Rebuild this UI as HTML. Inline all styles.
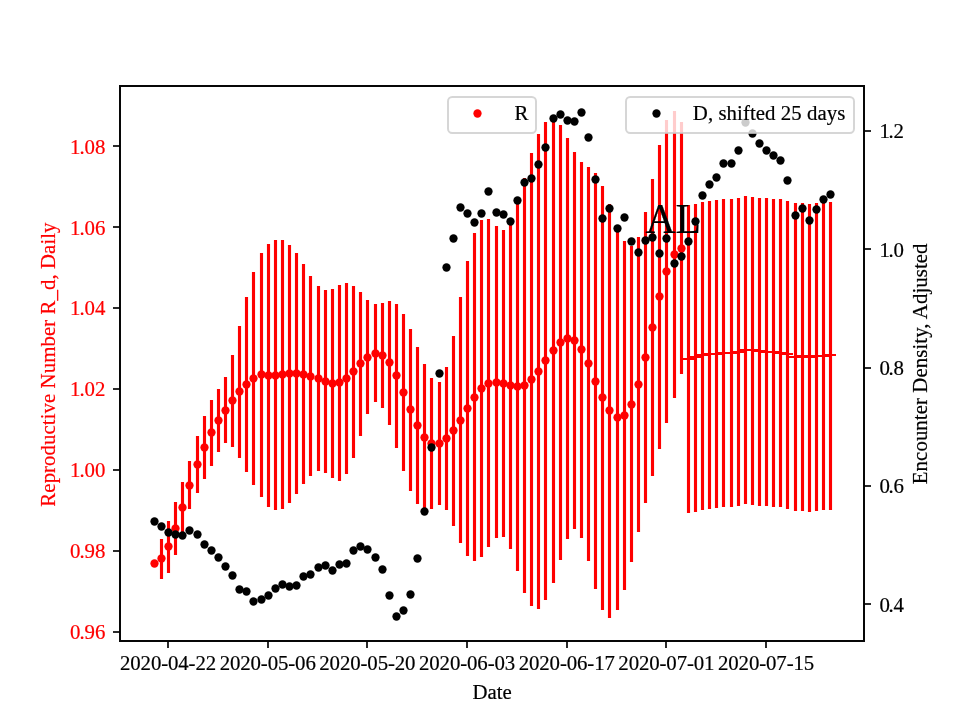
<!DOCTYPE html>
<html lang="en">
<head>
<meta charset="utf-8">
<title>Reproductive Number and Encounter Density - AL</title>
<style>
html,body{margin:0;padding:0;background:#fff;}
body{width:960px;height:720px;overflow:hidden;}
svg{display:block;}
text{stroke:currentColor;stroke-width:0.2px;}
</style>
</head>
<body>
<svg width="960" height="720" viewBox="0 0 960 720" font-family="'Liberation Serif', serif" font-size="20.83px" stroke-linejoin="round">
<rect width="960" height="720" fill="#fff"/>
<g fill="#f00">
<rect x="159.938" y="539" width="3.125" height="40"/>
<rect x="166.938" y="521" width="3.125" height="52"/>
<rect x="173.938" y="502" width="3.125" height="53"/>
<rect x="180.938" y="482" width="3.125" height="51"/>
<rect x="187.938" y="461" width="3.125" height="48"/>
<rect x="195.938" y="436" width="3.125" height="57"/>
<rect x="202.938" y="416" width="3.125" height="63"/>
<rect x="209.938" y="400" width="3.125" height="66"/>
<rect x="216.938" y="389" width="3.125" height="63"/>
<rect x="223.938" y="377" width="3.125" height="66"/>
<rect x="230.938" y="355" width="3.125" height="92"/>
<rect x="237.938" y="326" width="3.125" height="132"/>
<rect x="244.938" y="297" width="3.125" height="175"/>
<rect x="251.938" y="272" width="3.125" height="213"/>
<rect x="259.938" y="253" width="3.125" height="244"/>
<rect x="266.938" y="244" width="3.125" height="263"/>
<rect x="273.938" y="240" width="3.125" height="270"/>
<rect x="280.938" y="240" width="3.125" height="269"/>
<rect x="287.938" y="245" width="3.125" height="258"/>
<rect x="294.938" y="253" width="3.125" height="241"/>
<rect x="301.938" y="264" width="3.125" height="220"/>
<rect x="308.938" y="276" width="3.125" height="200"/>
<rect x="316.938" y="286" width="3.125" height="185"/>
<rect x="323.938" y="290" width="3.125" height="183"/>
<rect x="330.938" y="289" width="3.125" height="189"/>
<rect x="337.938" y="285" width="3.125" height="196"/>
<rect x="344.938" y="283" width="3.125" height="191"/>
<rect x="351.938" y="286" width="3.125" height="172"/>
<rect x="358.938" y="292" width="3.125" height="144"/>
<rect x="365.938" y="300" width="3.125" height="114"/>
<rect x="373.938" y="304" width="3.125" height="98"/>
<rect x="380.938" y="303" width="3.125" height="105"/>
<rect x="387.938" y="301" width="3.125" height="124"/>
<rect x="394.938" y="304" width="3.125" height="144"/>
<rect x="401.938" y="314" width="3.125" height="157"/>
<rect x="408.938" y="329" width="3.125" height="162"/>
<rect x="415.938" y="347" width="3.125" height="157"/>
<rect x="422.938" y="364" width="3.125" height="147"/>
<rect x="429.938" y="378" width="3.125" height="131"/>
<rect x="437.938" y="382" width="3.125" height="123"/>
<rect x="444.938" y="367" width="3.125" height="143"/>
<rect x="451.938" y="336" width="3.125" height="190"/>
<rect x="458.938" y="297" width="3.125" height="246"/>
<rect x="465.938" y="261" width="3.125" height="295"/>
<rect x="472.938" y="233" width="3.125" height="328"/>
<rect x="479.938" y="220" width="3.125" height="337"/>
<rect x="486.938" y="219" width="3.125" height="328"/>
<rect x="494.938" y="226" width="3.125" height="312"/>
<rect x="501.938" y="230" width="3.125" height="307"/>
<rect x="508.938" y="222" width="3.125" height="327"/>
<rect x="515.938" y="202" width="3.125" height="369"/>
<rect x="522.938" y="178" width="3.125" height="415"/>
<rect x="529.938" y="153" width="3.125" height="453"/>
<rect x="536.938" y="134" width="3.125" height="475"/>
<rect x="543.938" y="122" width="3.125" height="478"/>
<rect x="551.938" y="118" width="3.125" height="465"/>
<rect x="558.938" y="125" width="3.125" height="435"/>
<rect x="565.938" y="138" width="3.125" height="401"/>
<rect x="572.938" y="152" width="3.125" height="377"/>
<rect x="579.938" y="162" width="3.125" height="376"/>
<rect x="586.938" y="167" width="3.125" height="394"/>
<rect x="593.938" y="173" width="3.125" height="416"/>
<rect x="600.938" y="186" width="3.125" height="424"/>
<rect x="607.938" y="204" width="3.125" height="414"/>
<rect x="615.938" y="225" width="3.125" height="385"/>
<rect x="622.938" y="241" width="3.125" height="349"/>
<rect x="629.938" y="246" width="3.125" height="316"/>
<rect x="636.938" y="237" width="3.125" height="295"/>
<rect x="643.938" y="212" width="3.125" height="291"/>
<rect x="650.938" y="179" width="3.125" height="297"/>
<rect x="657.938" y="145" width="3.125" height="304"/>
<rect x="664.938" y="120" width="3.125" height="303"/>
<rect x="672.938" y="111" width="3.125" height="287"/>
<rect x="679.938" y="122" width="3.125" height="252"/>
<rect x="686.938" y="205" width="3.125" height="308"/>
<rect x="693.938" y="204" width="3.125" height="308"/>
<rect x="700.938" y="202" width="3.125" height="308"/>
<rect x="707.938" y="201" width="3.125" height="308"/>
<rect x="714.938" y="200" width="3.125" height="308"/>
<rect x="721.938" y="199" width="3.125" height="308"/>
<rect x="729.938" y="199" width="3.125" height="308"/>
<rect x="736.938" y="198" width="3.125" height="308"/>
<rect x="743.938" y="196" width="3.125" height="308"/>
<rect x="750.938" y="197" width="3.125" height="308"/>
<rect x="757.938" y="198" width="3.125" height="308"/>
<rect x="764.938" y="198" width="3.125" height="308"/>
<rect x="771.938" y="199" width="3.125" height="308"/>
<rect x="778.938" y="199" width="3.125" height="308"/>
<rect x="785.938" y="201" width="3.125" height="308"/>
<rect x="793.938" y="203" width="3.125" height="308"/>
<rect x="800.938" y="203" width="3.125" height="308"/>
<rect x="807.938" y="204" width="3.125" height="308"/>
<rect x="814.938" y="203" width="3.125" height="308"/>
<rect x="821.938" y="202" width="3.125" height="308"/>
<rect x="828.938" y="202" width="3.125" height="308"/>
<rect x="682" y="358" width="12" height="2"/>
<rect x="689" y="356" width="12" height="2"/>
<rect x="696" y="354" width="12" height="2"/>
<rect x="703" y="353" width="12" height="2"/>
<rect x="710" y="353" width="12" height="2"/>
<rect x="717" y="352" width="12" height="2"/>
<rect x="725" y="352" width="12" height="2"/>
<rect x="732" y="351" width="12" height="2"/>
<rect x="739" y="349" width="12" height="2"/>
<rect x="746" y="349" width="12" height="2"/>
<rect x="753" y="350" width="12" height="2"/>
<rect x="760" y="351" width="12" height="2"/>
<rect x="767" y="351" width="12" height="2"/>
<rect x="774" y="352" width="12" height="2"/>
<rect x="781" y="353" width="12" height="2"/>
<rect x="789" y="356" width="12" height="2"/>
<rect x="796" y="355" width="12" height="2"/>
<rect x="803" y="356" width="12" height="2"/>
<rect x="810" y="355" width="12" height="2"/>
<rect x="817" y="355" width="12" height="2"/>
<rect x="824" y="354" width="12" height="2"/>
</g>
<g fill="#f00">
<circle cx="154.5" cy="563.5" r="4.13"/>
<circle cx="161.5" cy="558.5" r="4.13"/>
<circle cx="168.5" cy="546.5" r="4.13"/>
<circle cx="175.5" cy="528.5" r="4.13"/>
<circle cx="182.5" cy="507.5" r="4.13"/>
<circle cx="189.5" cy="485.5" r="4.13"/>
<circle cx="197.5" cy="464.5" r="4.13"/>
<circle cx="204.5" cy="447.5" r="4.13"/>
<circle cx="211.5" cy="432.5" r="4.13"/>
<circle cx="218.5" cy="420.5" r="4.13"/>
<circle cx="225.5" cy="410.5" r="4.13"/>
<circle cx="232.5" cy="400.5" r="4.13"/>
<circle cx="239.5" cy="391.5" r="4.13"/>
<circle cx="246.5" cy="384.5" r="4.13"/>
<circle cx="253.5" cy="378.5" r="4.13"/>
<circle cx="261.5" cy="374.5" r="4.13"/>
<circle cx="268.5" cy="375.5" r="4.13"/>
<circle cx="275.5" cy="375.5" r="4.13"/>
<circle cx="282.5" cy="374.5" r="4.13"/>
<circle cx="289.5" cy="373.5" r="4.13"/>
<circle cx="296.5" cy="373.5" r="4.13"/>
<circle cx="303.5" cy="374.5" r="4.13"/>
<circle cx="310.5" cy="376.5" r="4.13"/>
<circle cx="318.5" cy="378.5" r="4.13"/>
<circle cx="325.5" cy="381.5" r="4.13"/>
<circle cx="332.5" cy="383.5" r="4.13"/>
<circle cx="339.5" cy="382.5" r="4.13"/>
<circle cx="346.5" cy="378.5" r="4.13"/>
<circle cx="353.5" cy="371.5" r="4.13"/>
<circle cx="360.5" cy="363.5" r="4.13"/>
<circle cx="367.5" cy="357.5" r="4.13"/>
<circle cx="375.5" cy="353.5" r="4.13"/>
<circle cx="382.5" cy="355.5" r="4.13"/>
<circle cx="389.5" cy="362.5" r="4.13"/>
<circle cx="396.5" cy="375.5" r="4.13"/>
<circle cx="403.5" cy="392.5" r="4.13"/>
<circle cx="410.5" cy="409.5" r="4.13"/>
<circle cx="417.5" cy="425.5" r="4.13"/>
<circle cx="424.5" cy="437.5" r="4.13"/>
<circle cx="431.5" cy="443.5" r="4.13"/>
<circle cx="439.5" cy="443.5" r="4.13"/>
<circle cx="446.5" cy="438.5" r="4.13"/>
<circle cx="453.5" cy="430.5" r="4.13"/>
<circle cx="460.5" cy="420.5" r="4.13"/>
<circle cx="467.5" cy="408.5" r="4.13"/>
<circle cx="474.5" cy="397.5" r="4.13"/>
<circle cx="481.5" cy="388.5" r="4.13"/>
<circle cx="488.5" cy="383.5" r="4.13"/>
<circle cx="496.5" cy="382.5" r="4.13"/>
<circle cx="503.5" cy="383.5" r="4.13"/>
<circle cx="510.5" cy="385.5" r="4.13"/>
<circle cx="517.5" cy="386.5" r="4.13"/>
<circle cx="524.5" cy="385.5" r="4.13"/>
<circle cx="531.5" cy="379.5" r="4.13"/>
<circle cx="538.5" cy="371.5" r="4.13"/>
<circle cx="545.5" cy="360.5" r="4.13"/>
<circle cx="553.5" cy="350.5" r="4.13"/>
<circle cx="560.5" cy="342.5" r="4.13"/>
<circle cx="567.5" cy="338.5" r="4.13"/>
<circle cx="574.5" cy="340.5" r="4.13"/>
<circle cx="581.5" cy="349.5" r="4.13"/>
<circle cx="588.5" cy="363.5" r="4.13"/>
<circle cx="595.5" cy="381.5" r="4.13"/>
<circle cx="602.5" cy="397.5" r="4.13"/>
<circle cx="609.5" cy="410.5" r="4.13"/>
<circle cx="617.5" cy="417.5" r="4.13"/>
<circle cx="624.5" cy="415.5" r="4.13"/>
<circle cx="631.5" cy="404.5" r="4.13"/>
<circle cx="638.5" cy="384.5" r="4.13"/>
<circle cx="645.5" cy="357.5" r="4.13"/>
<circle cx="652.5" cy="327.5" r="4.13"/>
<circle cx="659.5" cy="296.5" r="4.13"/>
<circle cx="666.5" cy="271.5" r="4.13"/>
<circle cx="674.5" cy="254.5" r="4.13"/>
<circle cx="681.5" cy="248.5" r="4.13"/>
</g>
<rect x="448" y="97" width="88" height="36" rx="4.2" ry="4.2" fill="#fff" fill-opacity="0.8" stroke="#ccc" stroke-opacity="0.8" stroke-width="2"/>
<circle cx="477.5" cy="113.5" r="4.13" fill="#f00"/>
<text x="514.5" y="120.3" fill="#000">R</text>
<text x="645.5" y="233.3" font-size="41.67px" fill="#000">AL</text>
<g fill="#000">
<circle cx="154.5" cy="521.5" r="4.13"/>
<circle cx="161.5" cy="526.5" r="4.13"/>
<circle cx="168.5" cy="532.5" r="4.13"/>
<circle cx="175.5" cy="534.5" r="4.13"/>
<circle cx="182.5" cy="535.5" r="4.13"/>
<circle cx="189.5" cy="530.5" r="4.13"/>
<circle cx="197.5" cy="534.5" r="4.13"/>
<circle cx="204.5" cy="544.5" r="4.13"/>
<circle cx="211.5" cy="550.5" r="4.13"/>
<circle cx="218.5" cy="557.5" r="4.13"/>
<circle cx="225.5" cy="566.5" r="4.13"/>
<circle cx="232.5" cy="575.5" r="4.13"/>
<circle cx="239.5" cy="589.5" r="4.13"/>
<circle cx="246.5" cy="591.5" r="4.13"/>
<circle cx="253.5" cy="601.5" r="4.13"/>
<circle cx="261.5" cy="599.5" r="4.13"/>
<circle cx="268.5" cy="595.5" r="4.13"/>
<circle cx="275.5" cy="588.5" r="4.13"/>
<circle cx="282.5" cy="584.5" r="4.13"/>
<circle cx="289.5" cy="586.5" r="4.13"/>
<circle cx="296.5" cy="585.5" r="4.13"/>
<circle cx="303.5" cy="576.5" r="4.13"/>
<circle cx="310.5" cy="574.5" r="4.13"/>
<circle cx="318.5" cy="567.5" r="4.13"/>
<circle cx="325.5" cy="565.5" r="4.13"/>
<circle cx="332.5" cy="570.5" r="4.13"/>
<circle cx="339.5" cy="564.5" r="4.13"/>
<circle cx="346.5" cy="563.5" r="4.13"/>
<circle cx="353.5" cy="550.5" r="4.13"/>
<circle cx="360.5" cy="546.5" r="4.13"/>
<circle cx="367.5" cy="549.5" r="4.13"/>
<circle cx="375.5" cy="557.5" r="4.13"/>
<circle cx="382.5" cy="569.5" r="4.13"/>
<circle cx="389.5" cy="595.5" r="4.13"/>
<circle cx="396.5" cy="616.5" r="4.13"/>
<circle cx="403.5" cy="610.5" r="4.13"/>
<circle cx="410.5" cy="594.5" r="4.13"/>
<circle cx="417.5" cy="558.5" r="4.13"/>
<circle cx="424.5" cy="511.5" r="4.13"/>
<circle cx="431.5" cy="447.5" r="4.13"/>
<circle cx="439.5" cy="373.5" r="4.13"/>
<circle cx="446.5" cy="267.5" r="4.13"/>
<circle cx="453.5" cy="238.5" r="4.13"/>
<circle cx="460.5" cy="207.5" r="4.13"/>
<circle cx="467.5" cy="213.5" r="4.13"/>
<circle cx="474.5" cy="222.5" r="4.13"/>
<circle cx="481.5" cy="213.5" r="4.13"/>
<circle cx="488.5" cy="191.5" r="4.13"/>
<circle cx="496.5" cy="212.5" r="4.13"/>
<circle cx="503.5" cy="214.5" r="4.13"/>
<circle cx="510.5" cy="221.5" r="4.13"/>
<circle cx="517.5" cy="200.5" r="4.13"/>
<circle cx="524.5" cy="182.5" r="4.13"/>
<circle cx="531.5" cy="178.5" r="4.13"/>
<circle cx="538.5" cy="164.5" r="4.13"/>
<circle cx="545.5" cy="147.5" r="4.13"/>
<circle cx="553.5" cy="118.5" r="4.13"/>
<circle cx="560.5" cy="114.5" r="4.13"/>
<circle cx="567.5" cy="120.5" r="4.13"/>
<circle cx="574.5" cy="121.5" r="4.13"/>
<circle cx="581.5" cy="112.5" r="4.13"/>
<circle cx="588.5" cy="137.5" r="4.13"/>
<circle cx="595.5" cy="179.5" r="4.13"/>
<circle cx="602.5" cy="218.5" r="4.13"/>
<circle cx="609.5" cy="208.5" r="4.13"/>
<circle cx="617.5" cy="228.5" r="4.13"/>
<circle cx="624.5" cy="217.5" r="4.13"/>
<circle cx="631.5" cy="241.5" r="4.13"/>
<circle cx="638.5" cy="252.5" r="4.13"/>
<circle cx="645.5" cy="240.5" r="4.13"/>
<circle cx="652.5" cy="237.5" r="4.13"/>
<circle cx="659.5" cy="253.5" r="4.13"/>
<circle cx="666.5" cy="238.5" r="4.13"/>
<circle cx="674.5" cy="263.5" r="4.13"/>
<circle cx="681.5" cy="256.5" r="4.13"/>
<circle cx="688.5" cy="241.5" r="4.13"/>
<circle cx="695.5" cy="221.5" r="4.13"/>
<circle cx="702.5" cy="195.5" r="4.13"/>
<circle cx="709.5" cy="184.5" r="4.13"/>
<circle cx="716.5" cy="177.5" r="4.13"/>
<circle cx="723.5" cy="163.5" r="4.13"/>
<circle cx="731.5" cy="163.5" r="4.13"/>
<circle cx="738.5" cy="150.5" r="4.13"/>
<circle cx="745.5" cy="122.5" r="4.13"/>
<circle cx="752.5" cy="133.5" r="4.13"/>
<circle cx="759.5" cy="143.5" r="4.13"/>
<circle cx="766.5" cy="150.5" r="4.13"/>
<circle cx="773.5" cy="155.5" r="4.13"/>
<circle cx="780.5" cy="160.5" r="4.13"/>
<circle cx="787.5" cy="180.5" r="4.13"/>
<circle cx="795.5" cy="215.5" r="4.13"/>
<circle cx="802.5" cy="208.5" r="4.13"/>
<circle cx="809.5" cy="220.5" r="4.13"/>
<circle cx="816.5" cy="209.5" r="4.13"/>
<circle cx="823.5" cy="199.5" r="4.13"/>
<circle cx="830.5" cy="194.5" r="4.13"/>
</g>
<rect x="626" y="97" width="228" height="36" rx="4.2" ry="4.2" fill="#fff" fill-opacity="0.8" stroke="#ccc" stroke-opacity="0.8" stroke-width="2"/>
<circle cx="656.5" cy="113.5" r="4.13" fill="#000"/>
<text x="692.8" y="120.3" textLength="152.6" lengthAdjust="spacing" fill="#000">D, shifted 25 days</text>
<g stroke="#070707" stroke-width="2" fill="none" stroke-linecap="square" stroke-linejoin="miter">
<rect x="120" y="86" width="744" height="555"/>
</g>
<g stroke="#000" stroke-width="1.667" stroke-linecap="butt">
<line x1="168.00" y1="641" x2="168.00" y2="648"/>
<line x1="268.00" y1="641" x2="268.00" y2="648"/>
<line x1="367.00" y1="641" x2="367.00" y2="648"/>
<line x1="467.00" y1="641" x2="467.00" y2="648"/>
<line x1="567.00" y1="641" x2="567.00" y2="648"/>
<line x1="666.00" y1="641" x2="666.00" y2="648"/>
<line x1="766.00" y1="641" x2="766.00" y2="648"/>
<line x1="113" y1="632.00" x2="120" y2="632.00"/>
<line x1="113" y1="551.00" x2="120" y2="551.00"/>
<line x1="113" y1="470.00" x2="120" y2="470.00"/>
<line x1="113" y1="389.00" x2="120" y2="389.00"/>
<line x1="113" y1="308.00" x2="120" y2="308.00"/>
<line x1="113" y1="227.00" x2="120" y2="227.00"/>
<line x1="113" y1="146.00" x2="120" y2="146.00"/>
<line x1="864" y1="604.00" x2="871" y2="604.00"/>
<line x1="864" y1="486.00" x2="871" y2="486.00"/>
<line x1="864" y1="368.00" x2="871" y2="368.00"/>
<line x1="864" y1="249.00" x2="871" y2="249.00"/>
<line x1="864" y1="131.00" x2="871" y2="131.00"/>
</g>
<g fill="#000" text-anchor="middle">
<text x="119.96" y="670.3" textLength="96.2" lengthAdjust="spacing" text-anchor="start">2020-04-22</text>
<text x="219.63" y="670.3" textLength="96.2" lengthAdjust="spacing" text-anchor="start">2020-05-06</text>
<text x="319.31" y="670.3" textLength="96.2" lengthAdjust="spacing" text-anchor="start">2020-05-20</text>
<text x="418.98" y="670.3" textLength="96.2" lengthAdjust="spacing" text-anchor="start">2020-06-03</text>
<text x="518.66" y="670.3" textLength="96.2" lengthAdjust="spacing" text-anchor="start">2020-06-17</text>
<text x="618.33" y="670.3" textLength="96.2" lengthAdjust="spacing" text-anchor="start">2020-07-01</text>
<text x="718.00" y="670.3" textLength="96.2" lengthAdjust="spacing" text-anchor="start">2020-07-15</text>
<text x="492.2" y="698.8">Date</text>
</g>
<g fill="#f00" color="#f00">
<text x="70 79.4 84.6 95" y="639">0.96</text>
<text x="70 79.4 84.6 95" y="558">0.98</text>
<text x="70 79.4 84.6 95" y="477">1.00</text>
<text x="70 79.4 84.6 95" y="396">1.02</text>
<text x="70 79.4 84.6 95" y="315">1.04</text>
<text x="70 79.4 84.6 95" y="235">1.06</text>
<text x="70 79.4 84.6 95" y="154">1.08</text>
</g>
<g fill="#000" text-anchor="start">
<text x="879.4 888.55 893.55" y="612">0.4</text>
<text x="879.4 888.55 893.55" y="493">0.6</text>
<text x="879.4 888.55 893.55" y="375">0.8</text>
<text x="879.4 888.55 893.55" y="257">1.0</text>
<text x="879.4 888.55 893.55" y="138">1.2</text>
</g>
<text transform="translate(55.0,364.55) rotate(-90)" x="-142.1" textLength="284.2" lengthAdjust="spacing" fill="#f00" color="#f00">Reproductive Number R_d, Daily</text>
<text transform="translate(926.9,363.85) rotate(-90)" x="-120.4" textLength="240.8" lengthAdjust="spacing" fill="#000">Encounter Density, Adjusted</text>
</svg>
</body>
</html>
